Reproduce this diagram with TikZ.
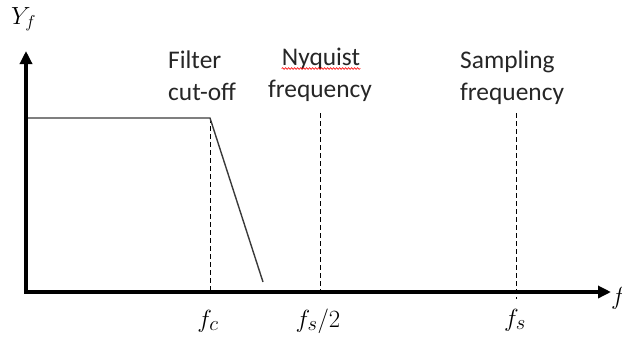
\documentclass[tikz,border=0pt]{standalone}
\usepackage{fontspec}
\setmainfont{Carlito}
\usetikzlibrary{arrows.meta,decorations.pathmorphing}
\definecolor{txtgray}{HTML}{262626}
\definecolor{linegray}{HTML}{3A3A3A}
\tikzset{
  axis/.style={line width=3.6bp, black, -{Triangle[length=13bp,width=12bp]}},
  resp/.style={line width=1.4bp, linegray},
  guide/.style={line width=1bp, black, dash pattern=on 5bp off 3bp},
  lbl/.style={inner sep=0pt, text=txtgray, font=\fontsize{25.5}{30}\selectfont},
  mlbl/.style={inner sep=0pt, font=\fontsize{31}{34}\selectfont},
  ylbl/.style={inner sep=0pt, font=\fontsize{24}{28}\selectfont},
  squiggle/.style={red, line width=0.6bp, decorate, decoration={snake, amplitude=0.9bp, segment length=3bp}}
}
\begin{document}
\begin{tikzpicture}[x=1bp,y=-1bp]
\useasboundingbox (0,0) rectangle (622,340);
% coordinates
\coordinate (O) at (26,292);
\coordinate (ytip) at (26,51);
\coordinate (xtip) at (611,292);
\coordinate (top0) at (26,118);
\coordinate (fcTop) at (210,118);
\coordinate (fcBot) at (210,291);
\coordinate (rollEnd) at (263,282);
\coordinate (nyTop) at (320,113);
\coordinate (nyBot) at (320,291);
\coordinate (fsTop) at (516,113);
\coordinate (fsBot) at (516,299);
% guides
\draw[guide] (fcTop) -- (fcBot);
\draw[guide] (nyTop) -- (nyBot);
\draw[guide] (fsTop) -- (fsBot);
% filter response
\draw[resp] (top0) -- (fcTop) -- (rollEnd);
% axes
\draw[axis] ([yshift=1.8bp]O) -- (ytip);
\draw[axis] ([xshift=-1.8bp]O) -- (xtip);
% labels
\node[lbl, anchor=base west] (filt1) at (168,68) {Filter};
\node[lbl, anchor=base west] (filt2) at (168,100) {cut-off};
\node[lbl, anchor=base] (ny1) at (321,65) {Nyquist};
\node[lbl, anchor=base] (ny2) at (320,97) {frequency};
\node[lbl, anchor=base west] (samp1) at (460,68) {Sampling};
\node[lbl, anchor=base west] (samp2) at (460,100) {frequency};
\draw[squiggle] ([yshift=-3.5bp]ny1.base west) -- ([yshift=-3.5bp]ny1.base east);
% math labels
\node[ylbl, anchor=base west] (Yf) at (11,24) {$Y_f$};
\node[mlbl, anchor=base west] (fx) at (611,304) {$f$};
\node[mlbl, anchor=base] (fc) at (208,327) {$f_c$};
\node[mlbl, anchor=base] (fn) at (318,327) {$f_s/2$};
\node[mlbl, anchor=base] (fs) at (515,326) {$f_s$};
\end{tikzpicture}
\end{document}
